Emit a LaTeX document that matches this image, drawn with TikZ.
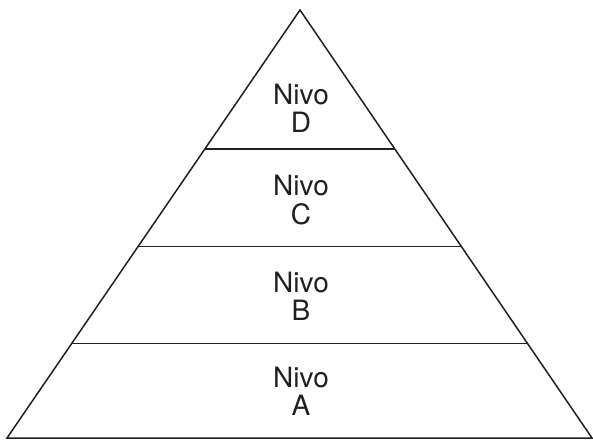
\documentclass[tikz,border=0pt]{standalone}
\usepackage{fontspec}
\setmainfont{TeX Gyre Heros}
\usetikzlibrary{calc}
\definecolor{ink}{HTML}{231F20}
\tikzset{
  edge/.style={draw=ink, line width=1.5pt, line join=miter},
  level/.style={align=center, inner sep=0pt, text=ink,
    font=\fontsize{28}{28.5}\selectfont}
}
\begin{document}
\begin{tikzpicture}[x=1pt, y=-1pt]
\useasboundingbox (0,0) rectangle (593,440);
\coordinate (apex) at (300,10);
\coordinate (L) at (7,438);
\coordinate (R) at (592,438);
\draw[edge] (apex) -- (L) -- (R) -- cycle;
\coordinate (l1) at ($(apex)!0.3248!(L)$);
\coordinate (r1) at ($(apex)!0.3248!(R)$);
\coordinate (l2) at ($(apex)!0.5526!(L)$);
\coordinate (r2) at ($(apex)!0.5526!(R)$);
\coordinate (l3) at ($(apex)!0.7792!(L)$);
\coordinate (r3) at ($(apex)!0.7792!(R)$);
\draw[edge] (l1) -- (r1);
\draw[edge] (l2) -- (r2);
\draw[edge] (l3) -- (r3);
\node[level] (d) at (301,108.5) {Nivo\\D};
\node[level] (c) at (301,200) {Nivo\\C};
\node[level] (b) at (301,296.5) {Nivo\\B};
\node[level] (a) at (301,391.5) {Nivo\\A};
\end{tikzpicture}
\end{document}
